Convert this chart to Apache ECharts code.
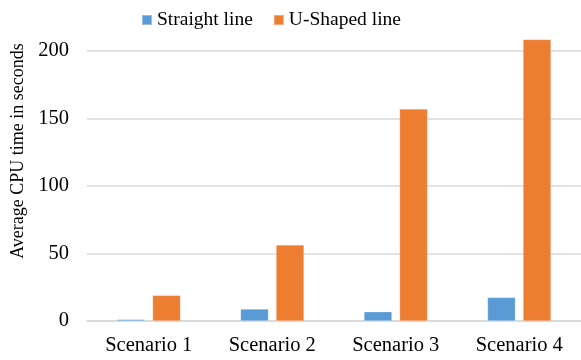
<!DOCTYPE html>
<html>
<head>
<meta charset="utf-8">
<script src="https://cdn.jsdelivr.net/npm/echarts@6/dist/echarts.min.js"></script>
<style>
  html, body { margin: 0; padding: 0; background: #fff; }
  #chart { width: 581px; height: 360px; }
</style>
</head>
<body>
<div id="chart"></div>
<script>
// Average CPU time per scenario for the two path shapes
const categories = ['Scenario 1', 'Scenario 2', 'Scenario 3', 'Scenario 4'];
const straightLine = [1.2, 8.9, 6.9, 17.5];
const uShapedLine = [19.0, 56.3, 157, 208.6];
const seriesNames = ['Straight line', 'U-Shaped line'];
const yAxisTitle = 'Average CPU time in seconds';

const font = '"Liberation Serif", "Times New Roman", serif';
const chart = echarts.init(document.getElementById('chart'), null, { renderer: 'canvas' });

chart.setOption({
  animation: false,
  color: ['#5B9BD5', '#ED7D31'],
  textStyle: { fontFamily: font, color: '#000' },
  legend: {
    data: seriesNames,
    left: 136,
    top: 5,
    itemWidth: 10,
    itemHeight: 10,
    itemGap: 20,
    icon: 'rect',
    textStyle: { fontFamily: font, fontSize: 19.5, color: '#000' }
  },
  grid: { left: 87, right: -4, top: 51, bottom: 39, containLabel: false },
  xAxis: {
    type: 'category',
    data: categories,
    axisTick: { show: false },
    axisLine: { lineStyle: { color: '#d9d9d9', width: 1.5 } },
    axisLabel: { fontFamily: font, fontSize: 20.5, color: '#000', margin: 14 }
  },
  yAxis: {
    type: 'value',
    min: 0,
    max: 200,
    interval: 50,
    name: yAxisTitle,
    nameLocation: 'middle',
    nameGap: 60,
    nameTextStyle: { fontFamily: font, fontSize: 18, color: '#000', padding: [0, 0, 0, 70] },
    axisLine: { show: false },
    axisTick: { show: false },
    axisLabel: { fontFamily: font, fontSize: 20.5, color: '#000', margin: 18 },
    splitLine: { lineStyle: { color: '#d9d9d9', width: 1.5 } }
  },
  series: [
    {
      name: seriesNames[0],
      type: 'bar',
      data: straightLine,
      barWidth: 28,
      barGap: '27%',
      clip: false,
      itemStyle: { borderColor: 'rgba(255,255,255,0.35)', borderWidth: 0.6 }
    },
    {
      name: seriesNames[1],
      type: 'bar',
      data: uShapedLine,
      barWidth: 28,
      barGap: '27%',
      clip: false,
      itemStyle: { borderColor: 'rgba(255,255,255,0.35)', borderWidth: 0.6 }
    }
  ]
});
</script>
</body>
</html>
